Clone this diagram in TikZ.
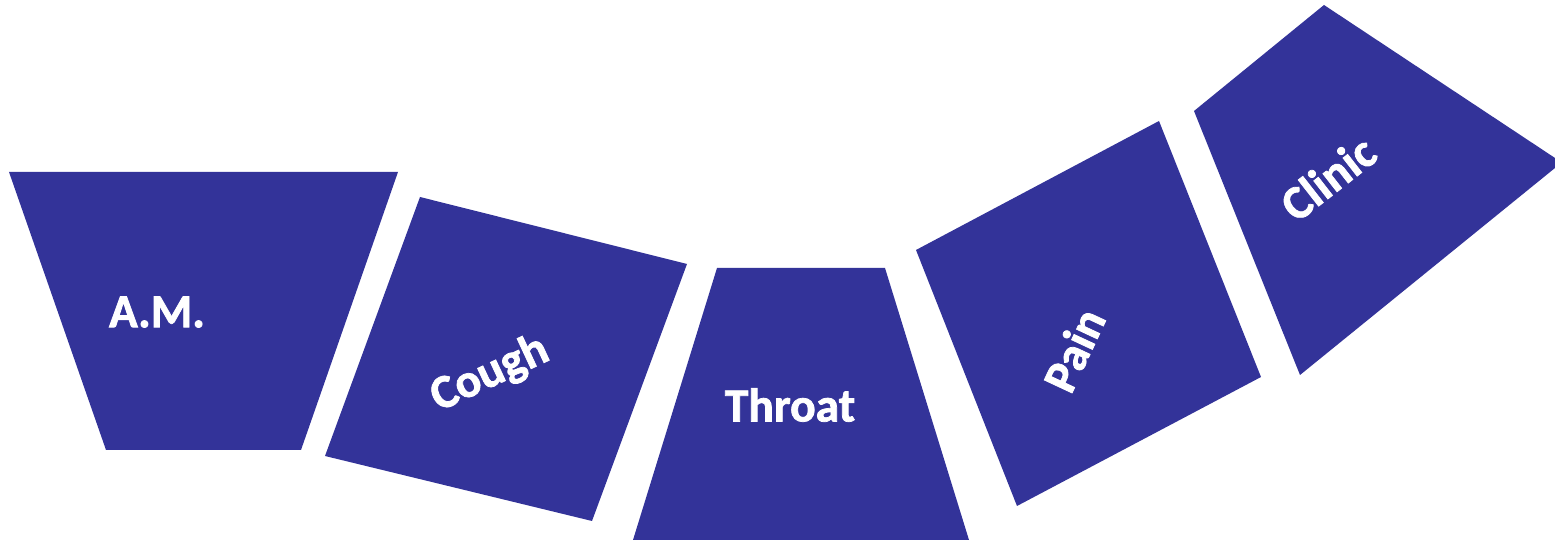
\documentclass[tikz,border=0pt]{standalone}
\usepackage{fontspec}
\setmainfont{Carlito}
\newfontfamily\labelfont{Carlito}[UprightFont=*-Bold, UprightFeatures={FakeBold=1.6}]
\definecolor{stepBlue}{RGB}{51,51,153}
\usepackage{tikz}
\usetikzlibrary{positioning}

\begin{document}
\begin{tikzpicture}[
        panel/.style={fill=stepBlue, draw=none},
        word/.style={text=white, font=\labelfont\fontsize{13.5}{16}\selectfont,
          inner sep=0pt}
      ]
        \useasboundingbox (0,0) rectangle (15.55,5.43);

        % Panels
        \fill[panel] (0.09,3.71) -- (3.98,3.71) -- (3.01,0.93) -- (1.06,0.93) -- cycle;
        \fill[panel] (4.20,3.46) -- (6.87,2.79) -- (5.92,0.22) -- (3.25,0.87) -- cycle;
        \fill[panel] (7.17,2.75) -- (8.85,2.75) -- (9.69,0.03) -- (6.33,0.03) -- cycle;
        \fill[panel] (9.16,2.93) -- (11.59,4.22) -- (12.61,1.66) -- (10.17,0.37) -- cycle;
        \fill[panel] (11.94,4.32) -- (13.24,5.38) -- (15.55,3.85) -- (15.55,3.75)
          -- (13.00,1.68) -- cycle;

        % Labels
        \node[word] (am) at (1.57,2.31) {A.M.};
        \node[word, rotate=25] (cough) at (4.90,1.69) {Cough};
        \node[word] (throat) at (7.90,1.38) {Throat};
        \node[word, rotate=65] (pain) at (10.74,1.93) {Pain};
        \node[word, rotate=38] (clinic) at (13.28,3.65) {Clinic};
      \end{tikzpicture}
\end{document}
